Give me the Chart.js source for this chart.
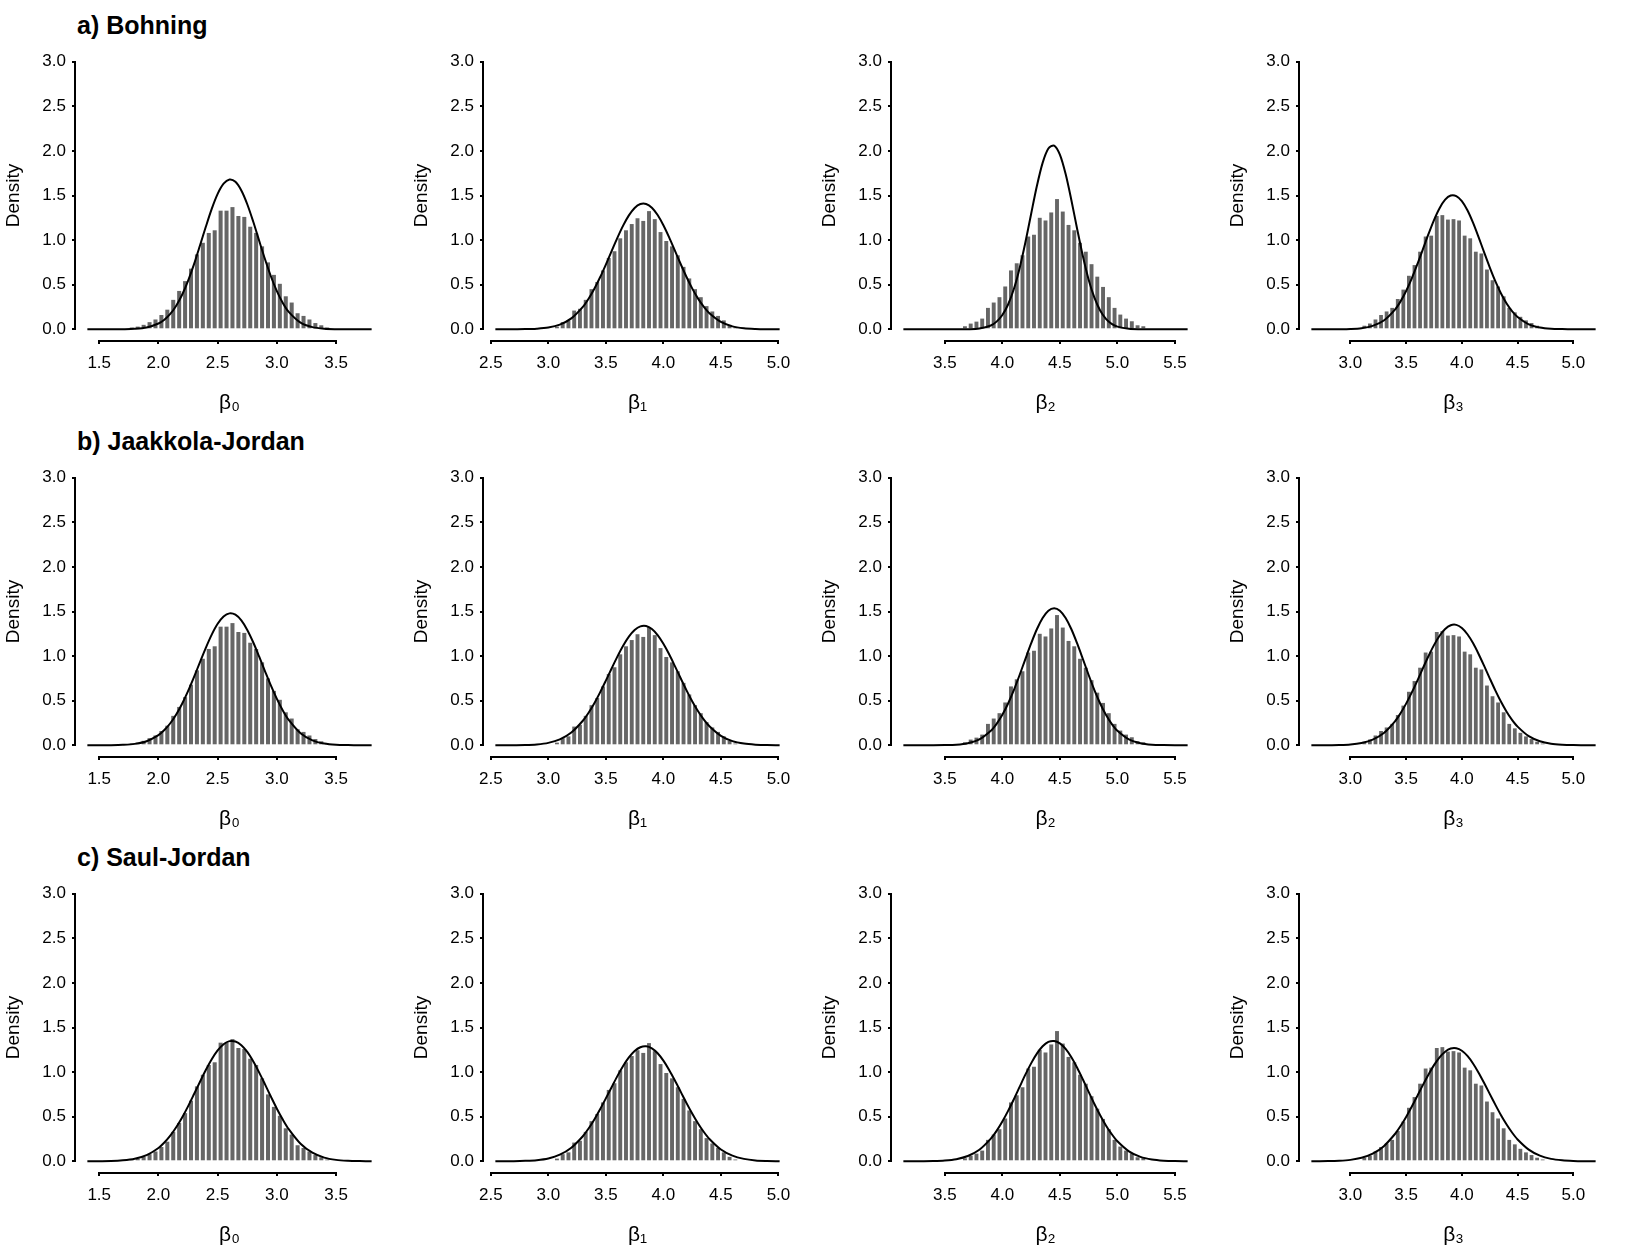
<!DOCTYPE html>
<html>
<head>
<meta charset="utf-8">
<script src="https://cdn.jsdelivr.net/npm/chart.js@4.4.1/dist/chart.umd.min.js"></script>
<style>
html,body{margin:0;padding:0;background:#fff;}
#wrap{position:relative;width:1632px;height:1248px;overflow:hidden;}
.panel{position:absolute;width:408px;height:416px;}
.rowtitle{position:absolute;left:77px;font-family:"Liberation Sans",Arial,sans-serif;font-weight:bold;font-size:25px;line-height:25px;color:#000;white-space:nowrap;}
</style>
</head>
<body>
<div id="wrap"></div>
<script>
// ---------- text ----------
const methodTitles = ['a) Bohning', 'b) Jaakkola-Jordan', 'c) Saul-Jordan'];
const paramLabels = ['β₀', 'β₁', 'β₂', 'β₃'];
const yLabel = 'Density';

// ---------- tick labels ----------
const yTicks = [0, 0.5, 1.0, 1.5, 2.0, 2.5, 3.0];
const xTicks0 = [1.5, 2.0, 2.5, 3.0, 3.5];
const xTicks1 = [2.5, 3.0, 3.5, 4.0, 4.5, 5.0];
const xTicks2 = [3.5, 4.0, 4.5, 5.0, 5.5];
const xTicks3 = [3.0, 3.5, 4.0, 4.5, 5.0];

// ---------- histogram bins (centres) and densities (same samples in every row) ----------
const bins0 = [1.775,1.825,1.875,1.925,1.975,2.025,2.075,2.125,2.175,2.225,2.275,2.325,2.375,2.425,2.475,2.525,2.575,2.625,2.675,2.725,2.775,2.825,2.875,2.925,2.975,3.025,3.075,3.125,3.175,3.225,3.275,3.325,3.375,3.425];
const hist0 = [0.02,0.03,0.05,0.08,0.11,0.16,0.22,0.33,0.43,0.54,0.68,0.84,0.97,1.08,1.11,1.33,1.33,1.37,1.27,1.26,1.15,1.08,0.93,0.75,0.61,0.51,0.37,0.30,0.18,0.15,0.11,0.07,0.045,0.02];

const bins1 = [3.075,3.125,3.175,3.225,3.275,3.325,3.375,3.425,3.475,3.525,3.575,3.625,3.675,3.725,3.775,3.825,3.875,3.925,3.975,4.025,4.075,4.125,4.175,4.225,4.275,4.325,4.375,4.425,4.475,4.525,4.575,4.625];
const hist1 = [0.03,0.08,0.10,0.21,0.23,0.33,0.45,0.53,0.66,0.80,0.875,1.02,1.11,1.18,1.245,1.215,1.325,1.235,1.09,0.99,0.93,0.83,0.70,0.57,0.45,0.36,0.26,0.20,0.15,0.10,0.05,0.02];

const bins2 = [3.675,3.725,3.775,3.825,3.875,3.925,3.975,4.025,4.075,4.125,4.175,4.225,4.275,4.325,4.375,4.425,4.475,4.525,4.575,4.625,4.675,4.725,4.775,4.825,4.875,4.925,4.975,5.025,5.075,5.125,5.175,5.225];
const hist2 = [0.034,0.064,0.086,0.12,0.24,0.30,0.36,0.48,0.66,0.74,0.83,1.04,1.06,1.25,1.22,1.31,1.46,1.32,1.17,1.11,0.97,0.87,0.73,0.59,0.475,0.36,0.24,0.165,0.12,0.09,0.045,0.034];

const bins3 = [3.125,3.175,3.225,3.275,3.325,3.375,3.425,3.475,3.525,3.575,3.625,3.675,3.725,3.775,3.825,3.875,3.925,3.975,4.025,4.075,4.125,4.175,4.225,4.275,4.325,4.375,4.425,4.475,4.525,4.575,4.625,4.675,4.725];
const hist3 = [0.04,0.065,0.11,0.16,0.20,0.24,0.34,0.445,0.60,0.72,0.87,1.04,1.05,1.27,1.28,1.23,1.235,1.22,1.05,1.02,0.87,0.85,0.67,0.55,0.48,0.37,0.24,0.19,0.14,0.10,0.07,0.04,0.02];

// ---------- approximating density curves ----------
const curveX0 = [1.4,1.5,1.6,1.7,1.8,1.9,2.0,2.05,2.1,2.15,2.2,2.25,2.3,2.35,2.4,2.45,2.5,2.55,2.6,2.65,2.7,2.75,2.8,2.85,2.9,2.95,3.0,3.05,3.1,3.2,3.3,3.4,3.5,3.6,3.7,3.8];
const bohning0 = [0,0,0,0.001,0.005,0.020,0.065,0.108,0.173,0.265,0.387,0.543,0.728,0.936,1.149,1.350,1.518,1.632,1.679,1.653,1.556,1.402,1.208,0.995,0.785,0.592,0.427,0.295,0.195,0.074,0.024,0.006,0.001,0,0,0];
const jaakkola0 = [0,0,0.001,0.005,0.016,0.046,0.114,0.171,0.247,0.345,0.466,0.607,0.764,0.930,1.093,1.241,1.362,1.444,1.479,1.464,1.400,1.293,1.155,0.996,0.830,0.668,0.520,0.391,0.284,0.135,0.056,0.020,0.006,0.002,0,0];
const saul0 = [0,0.001,0.003,0.011,0.029,0.069,0.149,0.210,0.287,0.381,0.492,0.616,0.751,0.889,1.023,1.144,1.243,1.313,1.347,1.343,1.301,1.226,1.121,0.997,0.862,0.724,0.590,0.468,0.361,0.197,0.096,0.041,0.016,0.006,0.002,0];

const curveX1 = [2.54,2.6,2.7,2.8,2.9,3.0,3.1,3.2,3.3,3.35,3.4,3.45,3.5,3.55,3.6,3.65,3.7,3.75,3.8,3.85,3.9,3.95,4.0,4.05,4.1,4.15,4.2,4.25,4.3,4.35,4.4,4.5,4.6,4.7,4.8,4.9,5.01];
const bohning1 = [0,0,0.001,0.002,0.007,0.020,0.053,0.122,0.251,0.343,0.454,0.583,0.726,0.876,1.025,1.162,1.277,1.360,1.404,1.405,1.363,1.281,1.167,1.031,0.882,0.732,0.589,0.459,0.347,0.254,0.180,0.083,0.033,0.012,0.004,0.001,0];
const jaakkola1 = [0,0,0.001,0.003,0.010,0.027,0.066,0.143,0.275,0.365,0.472,0.593,0.725,0.861,0.994,1.116,1.218,1.292,1.333,1.337,1.303,1.235,1.138,1.020,0.888,0.752,0.619,0.495,0.385,0.291,0.214,0.106,0.047,0.019,0.007,0.002,0.001];
const saul1 = [0,0,0.001,0.005,0.013,0.032,0.074,0.152,0.281,0.368,0.469,0.583,0.705,0.831,0.955,1.068,1.164,1.237,1.279,1.289,1.266,1.211,1.128,1.024,0.906,0.781,0.655,0.536,0.427,0.331,0.250,0.132,0.063,0.027,0.010,0.004,0.001];

const curveX2 = [3.14,3.2,3.3,3.4,3.5,3.6,3.7,3.8,3.9,3.95,4.0,4.05,4.1,4.15,4.2,4.25,4.3,4.35,4.4,4.45,4.5,4.55,4.6,4.65,4.7,4.75,4.8,4.85,4.9,4.95,5.0,5.1,5.2,5.3,5.4,5.5,5.61];
const bohning2 = [0,0,0,0,0,0,0.001,0.009,0.043,0.086,0.160,0.278,0.451,0.685,0.973,1.293,1.606,1.866,2.027,2.060,1.958,1.740,1.447,1.125,0.818,0.556,0.354,0.210,0.117,0.061,0.030,0.006,0.001,0,0,0,0];
const jaakkola2 = [0,0,0,0,0.002,0.007,0.024,0.067,0.163,0.241,0.342,0.469,0.619,0.788,0.967,1.142,1.301,1.427,1.509,1.537,1.509,1.427,1.301,1.142,0.967,0.788,0.619,0.469,0.342,0.241,0.163,0.067,0.024,0.007,0.002,0,0];
const saul2 = [0,0,0.001,0.003,0.009,0.024,0.059,0.129,0.254,0.341,0.446,0.565,0.696,0.834,0.971,1.098,1.207,1.289,1.338,1.349,1.322,1.260,1.166,1.049,0.917,0.779,0.643,0.516,0.402,0.305,0.224,0.111,0.049,0.020,0.007,0.002,0.001];

const curveX3 = [2.65,2.8,2.9,3.0,3.1,3.2,3.3,3.4,3.45,3.5,3.55,3.6,3.65,3.7,3.75,3.8,3.85,3.9,3.95,4.0,4.05,4.1,4.15,4.2,4.25,4.3,4.35,4.4,4.45,4.5,4.6,4.7,4.8,4.9,5.0,5.1,5.2];
const bohning3 = [0,0,0.001,0.004,0.013,0.038,0.098,0.220,0.313,0.430,0.569,0.727,0.896,1.066,1.225,1.358,1.453,1.500,1.494,1.437,1.334,1.195,1.033,0.862,0.694,0.539,0.404,0.293,0.205,0.138,0.056,0.020,0.006,0.002,0,0,0];
const jaakkola3 = [0,0.001,0.003,0.009,0.026,0.063,0.138,0.269,0.360,0.467,0.590,0.723,0.862,0.998,1.123,1.228,1.304,1.346,1.350,1.315,1.245,1.146,1.024,0.890,0.751,0.616,0.491,0.380,0.286,0.209,0.102,0.045,0.017,0.006,0.002,0.001,0];
const saul3 = [0,0.002,0.006,0.016,0.039,0.085,0.170,0.306,0.395,0.498,0.611,0.731,0.854,0.971,1.078,1.166,1.229,1.264,1.267,1.239,1.181,1.097,0.994,0.878,0.756,0.635,0.519,0.415,0.323,0.245,0.131,0.063,0.027,0.011,0.004,0.001,0];

// ---------- assembly ----------
const columns = [
  {bins: bins0, hist: hist0, ticks: xTicks0, cx: curveX0, curves: [bohning0, jaakkola0, saul0]},
  {bins: bins1, hist: hist1, ticks: xTicks1, cx: curveX1, curves: [bohning1, jaakkola1, saul1]},
  {bins: bins2, hist: hist2, ticks: xTicks2, cx: curveX2, curves: [bohning2, jaakkola2, saul2]},
  {bins: bins3, hist: hist3, ticks: xTicks3, cx: curveX3, curves: [bohning3, jaakkola3, saul3]}
];

const FONT = '"Liberation Sans", Arial, Helvetica, sans-serif';
Chart.defaults.font.family = FONT;
Chart.defaults.color = '#000';

const PANEL_W = 408, PANEL_H = 416;

// R-style axis lines: drawn only between first and last tick
const rAxes = {
  id: 'rAxes',
  afterDraw(chart) {
    const {ctx, chartArea, scales: {x, y}} = chart;
    ctx.save();
    ctx.strokeStyle = '#000';
    ctx.lineWidth = 2;
    ctx.lineCap = 'square';
    const xt = x.ticks, yt = y.ticks;
    const yb = chartArea.bottom + 1;
    ctx.beginPath();
    ctx.moveTo(Math.round(x.getPixelForValue(xt[0].value)), yb);
    ctx.lineTo(Math.round(x.getPixelForValue(xt[xt.length - 1].value)), yb);
    ctx.stroke();
    const xl = chartArea.left - 1;
    ctx.beginPath();
    ctx.moveTo(xl, Math.round(y.getPixelForValue(yt[0].value)));
    ctx.lineTo(xl, Math.round(y.getPixelForValue(yt[yt.length - 1].value)));
    ctx.stroke();
    ctx.restore();
  }
};

const wrap = document.getElementById('wrap');

methodTitles.forEach((t, r) => {
  const d = document.createElement('div');
  d.className = 'rowtitle';
  d.style.top = (13 + r * PANEL_H) + 'px';
  d.textContent = t;
  wrap.appendChild(d);
});

for (let r = 0; r < 3; r++) {
  for (let c = 0; c < 4; c++) {
    const col = columns[c];
    const div = document.createElement('div');
    div.className = 'panel';
    div.style.left = (c * PANEL_W) + 'px';
    div.style.top = (r * PANEL_H) + 'px';
    const cv = document.createElement('canvas');
    cv.width = PANEL_W; cv.height = PANEL_H;
    cv.style.width = PANEL_W + 'px'; cv.style.height = PANEL_H + 'px';
    div.appendChild(cv);
    wrap.appendChild(div);

    const lo = col.cx[0], hi = col.cx[col.cx.length - 1];
    const ext = 0.04 * (hi - lo);
    const ylo = yTicks[0], yhi = yTicks[yTicks.length - 1];
    const yext = 0.04 * (yhi - ylo);
    const curve = col.curves[r];

    new Chart(cv, {
      type: 'bar',
      data: {
        datasets: [
          {
            type: 'line',
            label: 'approx',
            data: col.cx.map((x, i) => ({x: x, y: curve[i]})),
            borderColor: '#000',
            borderWidth: 2,
            pointRadius: 0,
            fill: false,
            tension: 0.3,
            order: 0
          },
          {
            type: 'bar',
            label: 'hist',
            data: col.bins.map((x, i) => ({x: x, y: col.hist[i]})),
            backgroundColor: '#666666',
            borderWidth: 0,
            barPercentage: 0.68,
            categoryPercentage: 1.0,
            order: 1
          }
        ]
      },
      options: {
        responsive: false,
        animation: false,
        devicePixelRatio: 1,
        layout: {padding: {top: 51, left: 0, right: 25, bottom: 0}},
        plugins: {legend: {display: false}, tooltip: {enabled: false}, title: {display: false}},
        scales: {
          x: {
            type: 'linear',
            offset: false,
            min: lo - ext,
            max: hi + ext,
            border: {display: false},
            grid: {display: true, offset: false, drawOnChartArea: false, drawTicks: true, tickLength: 4, color: '#000', lineWidth: 2},
            afterBuildTicks: s => { s.ticks = col.ticks.map(v => ({value: v})); },
            ticks: {
              callback: v => Number(v).toFixed(1),
              font: {size: 17},
              color: '#000',
              padding: 9,
              maxRotation: 0,
              autoSkip: false
            },
            title: {display: true, text: paramLabels[c], font: {size: 21}, color: '#000', padding: {top: 0, bottom: 0}},
            afterFit: s => { s.height = 76; }
          },
          y: {
            type: 'linear',
            min: ylo - yext,
            max: yhi + yext,
            border: {display: false},
            grid: {display: true, drawOnChartArea: false, drawTicks: true, tickLength: 4, color: '#000', lineWidth: 2},
            afterBuildTicks: s => { s.ticks = yTicks.map(v => ({value: v})); },
            ticks: {
              callback: v => Number(v).toFixed(1),
              font: {size: 17},
              color: '#000',
              padding: 6,
              autoSkip: false
            },
            title: {display: true, text: yLabel, font: {size: 19}, color: '#000', padding: {top: 2, bottom: 0}},
            afterFit: s => { s.width = 76; }
          }
        }
      },
      plugins: [rAxes]
    });
  }
}
</script>
</body>
</html>
